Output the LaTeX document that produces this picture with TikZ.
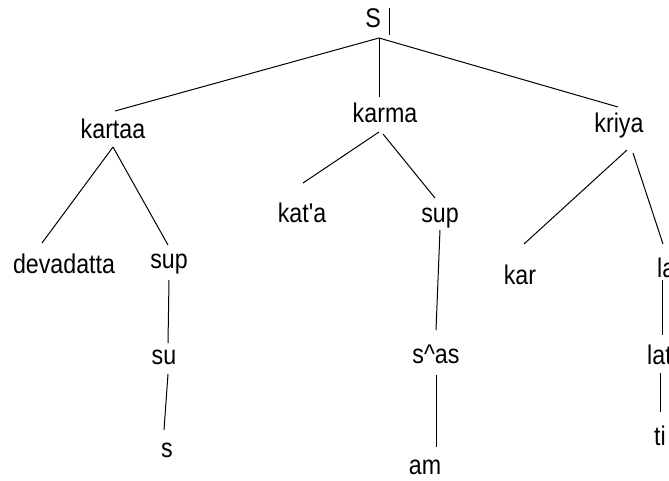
\documentclass[tikz,border=0pt]{standalone}
\usepackage{fontspec}
\newfontfamily\lblfont[FakeStretch=0.86]{Liberation Sans}
\usetikzlibrary{calc}
\tikzset{
  lbl/.style={inner sep=0pt, anchor=base, font=\lblfont\fontsize{27}{32}\selectfont},
  lblw/.style={lbl, anchor=base west},
  edge/.style={line width=1pt, black}
}
\begin{document}
\begin{tikzpicture}[x=1pt,y=-1pt]
\useasboundingbox (0,0) rectangle (669,480);
\clip (0,0) rectangle (669,480);
% labels
\node[lbl] (S) at (373,27) {S};
\node[lbl] (kartaa) at (113,138) {kartaa};
\node[lbl] (karma) at (385,122) {karma};
\node[lbl] (kriya) at (619,132) {kriya};
\node[lbl] (deva) at (64,273) {devadatta};
\node[lbl] (supL) at (169,268) {sup};
\node[lbl] (su) at (164,364) {su};
\node[lbl] (s) at (167,457) {s};
\node[lbl] (kata) at (302,222) {kat'a};
\node[lbl] (supM) at (440,222) {sup};
\node[lbl] (sas) at (436,363) {s\^{}as};
\node[lbl] (am) at (425,474) {am};
\node[lbl] (kar) at (520,284) {kar};
\node[lblw] (la) at (657,277) {la};
\node[lblw] (lat) at (647,364) {lat};
\node[lbl] (ti) at (660,445) {ti};
% junction under S
\coordinate (J) at ($(S.base)+(6,11)$);
\draw[edge] ($(S.base)+(16,-19)$) -- ($(S.base)+(16,8)$);
\draw[edge] (J) -- ($(kartaa.base)+(2,-27)$);
\draw[edge] (J) -- ($(karma.base)+(-6,-25)$);
\draw[edge] (J) -- ($(kriya.base)+(-1,-25)$);
% kartaa
\draw[edge] ($(kartaa.base)+(0,9)$) -- ($(deva.base)+(-22,-30)$);
\draw[edge] ($(kartaa.base)+(0,9)$) -- ($(supL.base)+(-1,-23)$);
\draw[edge] ($(supL.base)+(0,12)$) -- ($(su.base)+(4,-21)$);
\draw[edge] ($(su.base)+(4,10)$) -- ($(s.base)+(-3,-27)$);
% karma
\draw[edge] ($(karma.base)+(-6,10)$) -- ($(kata.base)+(1,-39)$);
\draw[edge] ($(karma.base)+(-2,12)$) -- ($(supM.base)+(-5,-24)$);
\draw[edge] ($(supM.base)+(0,8)$) -- ($(sas.base)+(0,-33)$);
\draw[edge] ($(sas.base)+(0,12)$) -- ($(am.base)+(11,-27)$);
% kriya
\draw[edge] ($(kriya.base)+(8,18)$) -- ($(kar.base)+(4,-40)$);
\draw[edge] ($(kriya.base)+(14,21)$) -- ($(la.base west)+(6,-33)$);
\draw[edge] ($(la.base west)+(5,3)$) -- ($(lat.base west)+(15,-29)$);
\draw[edge] ($(lat.base west)+(13,9)$) -- ($(ti.base)+(0,-33)$);
\end{tikzpicture}
\end{document}
